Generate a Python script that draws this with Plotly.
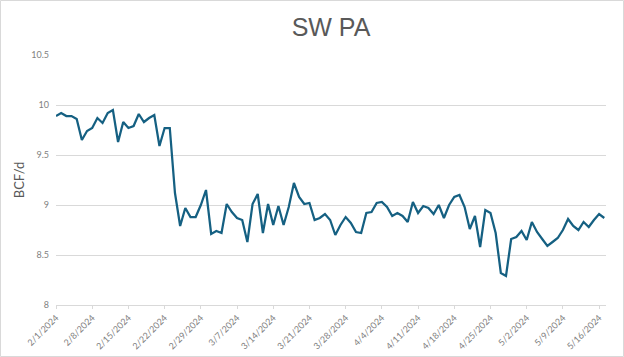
import pandas as pd
import plotly.graph_objects as go

start_date = "2024-02-01"
values = [
    9.89, 9.92, 9.89, 9.89, 9.86, 9.65, 9.74, 9.77, 9.87, 9.82,
    9.92, 9.95, 9.63, 9.83, 9.77, 9.79, 9.91, 9.83, 9.87, 9.90,
    9.59, 9.77, 9.77,
    9.12, 8.79, 8.97, 8.88, 8.88, 9.00, 9.15, 8.71, 8.74, 8.72,
    9.01, 8.93, 8.87, 8.85, 8.63, 9.01, 9.11, 8.72, 9.01, 8.80,
    8.99, 8.80, 8.98, 9.22, 9.08, 9.01,
    9.02, 8.85, 8.87, 8.91, 8.85, 8.70, 8.80, 8.88, 8.82, 8.73,
    8.72, 8.92, 8.93, 9.02, 9.03, 8.98, 8.89, 8.92, 8.89, 8.83,
    9.03, 8.92, 8.99, 8.97, 8.91, 9.00, 8.87, 9.00, 9.08, 9.10,
    8.98, 8.76, 8.89, 8.58, 8.95, 8.92, 8.72, 8.32, 8.29, 8.66,
    8.68, 8.74, 8.65, 8.83, 8.73, 8.66, 8.59, 8.63, 8.67, 8.75,
    8.86, 8.79, 8.75, 8.83, 8.78, 8.85, 8.91, 8.87,
]
dates = pd.date_range(start_date, periods=len(values), freq="D")
title_text = "SW PA"
y_title = "BCF/d"

W, H = 624, 357
ml, mr, mt, mb = 56, 18, 55, 52
pw, ph = W - ml - mr, H - mt - mb

fig = go.Figure()
fig.add_trace(go.Scatter(
    x=dates, y=values, mode="lines",
    line=dict(color="#156082", width=2.25),
    showlegend=False,
))

fig.update_layout(
    width=W, height=H,
    margin=dict(l=ml, r=mr, t=mt, b=mb, autoexpand=False),
    paper_bgcolor="white", plot_bgcolor="white",
    title=dict(text=title_text, x=0.5, xref="paper", xanchor="center",
               y=1 - 27 / H, yanchor="middle",
               font=dict(family="Liberation Sans Narrow, Arial Narrow, Liberation Sans", size=25,
                         color="#595959")),
    font=dict(family="Lato, Calibri, sans-serif", color="#7f7f7f"),
)

fig.update_xaxes(
    type="date", automargin=False,
    range=[dates[0], dates[-1] + pd.Timedelta(hours=8)],
    tick0=start_date, dtick=7 * 24 * 3600 * 1000,
    tickformat="%-m/%-d/%Y", tickangle=-45,
    tickfont=dict(size=9, color="#7f7f7f"),
    ticks="outside", ticklen=3, tickcolor="#d9d9d9",
    showline=True, linecolor="#d9d9d9", linewidth=1,
    showgrid=False, zeroline=False,
)
fig.update_yaxes(
    range=[8, 10.5], dtick=0.5, tick0=8, automargin=False,
    tickfont=dict(size=9, color="#7f7f7f"),
    showgrid=True, gridcolor="#d9d9d9", gridwidth=1,
    zeroline=False, showline=False, ticks="",
    ticklabelstandoff=6,
    title=dict(text=y_title, font=dict(size=13, color="#595959"), standoff=3),
)

fig.add_shape(type="rect", xref="paper", yref="paper",
              x0=-(ml - 0.5) / pw, x1=1 + (mr - 0.5) / pw,
              y0=-(mb - 0.5) / ph, y1=1 + (mt - 0.5) / ph,
              line=dict(color="#d9d9d9", width=1), layer="below")

fig.write_html("out.html", config={"displayModeBar": False},
               post_script="document.body.style.margin='0';")
